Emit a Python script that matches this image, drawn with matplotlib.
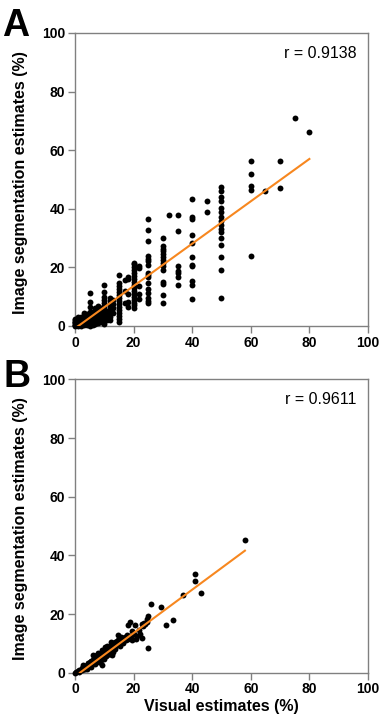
import matplotlib
matplotlib.use('Agg')
import matplotlib.pyplot as plt

plt.rcParams['font.family'] = ['Liberation Sans', 'DejaVu Sans']

# panel A: visual estimate (x) vs image segmentation estimate (y)
vis_a = ([0]*8 + [1]*5 + [2]*5 + [3]*6 + [4]*4 + [5]*10 + [6]*5 + [7]*6 + [8]*6 + [9]*5
         + [10]*12 + [11]*3 + [12]*8 + [13]*4 + [15]*15 + [17]*3 + [18]*5 + [20]*17
         + [22]*5 + [25]*16 + [30]*14 + [32] + [35]*7 + [40]*11 + [45]*2 + [50]*16
         + [60]*5 + [65] + [70]*2 + [75] + [80])
seg_a = ([0, 0.5, 1, 1.5, 2, 2.5, 0.2, 1.2] +
         [0, 0.5, 1.2, 2.0, 3.0] +
         [0, 0.4, 1.0, 2.2, 3.2] +
         [0.3, 0.8, 1.5, 2.5, 3.5, 4.5] +
         [0.5, 1.5, 2.8, 4.2] +
         [0, 0.6, 1.2, 2.0, 3.0, 4.0, 4.8, 6.5, 8.2, 11.1] +
         [0.5, 1.5, 2.5, 3.5, 4.8] +
         [0.8, 1.8, 3.0, 4.2, 5.5, 6.3] +
         [1.0, 2.0, 3.0, 4.5, 5.8, 6.8] +
         [1.2, 2.5, 3.8, 5.0, 6.3] +
         [0.8, 1.8, 2.8, 3.8, 4.8, 5.8, 6.8, 7.8, 8.8, 10.0, 11.7, 14.1] +
         [2.0, 3.5, 5.0] +
         [2.0, 3.2, 4.5, 5.5, 6.5, 7.5, 8.5, 9.5] +
         [4.5, 6.0, 7.5, 9.0] +
         [1.5, 2.5, 3.5, 4.5, 5.5, 6.5, 7.5, 8.5, 9.5, 10.5, 11.5, 12.5, 13.5, 14.5, 17.4] +
         [8.0, 12.0, 15.7] +
         [6.6, 8.3, 10.9, 15.9, 16.8] +
         [6.0, 7.0, 8.0, 9.0, 10.0, 11.0, 12.0, 13.0, 14.0, 15.0, 16.0, 17.0, 18.0, 19.0, 20.0, 21.0, 21.6] +
         [9.1, 10.9, 13.7, 19.7, 20.3] +
         [7.7, 8.4, 9.6, 11.1, 12.7, 14.6, 16.6, 17.3, 18.0, 20.7, 22.1, 23.0, 23.9, 29.0, 32.8, 36.4] +
         [7.7, 10.6, 14.3, 15.1, 19.1, 20.3, 21.4, 22.5, 23.4, 24.6, 25.5, 26.4, 27.4, 30.1] +
         [38.0] +
         [14.0, 16.8, 18.0, 18.9, 20.5, 32.5, 38.0] +
         [9.3, 13.9, 15.5, 20.3, 20.7, 23.7, 28.2, 31.1, 36.6, 37.1, 43.2] +
         [38.9, 42.8] +
         [9.4, 19.1, 23.7, 27.5, 30.0, 32.1, 33.2, 34.6, 35.7, 37.1, 38.9, 40.2, 42.8, 43.9, 46.2, 47.3] +
         [23.8, 46.3, 47.9, 51.9, 56.2] +
         [46.1] +
         [47.1, 56.4] +
         [70.9] +
         [66.1])
fit_a_x = [1, 80]
fit_a_y = [-0.1, 57.0]
r_a = 'r = 0.9138'

# panel B
vis_b = [0, 0.5, 1, 1.2, 1.5, 2, 2.3, 2.5, 2.8, 3, 3, 3.2, 3.5, 3.8, 4, 4, 4.2, 4.5, 4.8, 5,
         5.1, 5.3, 5.5, 5.8, 6, 6.2, 6.3, 6.5, 6.8, 7, 7, 7.2, 7.5, 7.8, 8, 8, 8.2, 8.5, 8.5, 8.8,
         9, 9.1, 9.2, 9.4, 9.6, 10, 10, 10.2, 10.5, 10.8, 11, 11, 11.3, 11.6, 11.9, 12, 12.2, 12.5,
         12.6, 12.8, 13.1, 13.3, 13.6, 13.8, 14, 14.4, 14.6, 15, 15.2, 15.7, 16, 16.3, 16.8, 17.2,
         17.5, 18, 18.2, 18.6, 18.9, 19, 19.5, 20.1, 20.5, 20.8, 21.2, 22.2, 22.8, 22.8, 23.5, 24,
         24.7, 24.7, 24.9, 24.9, 26, 29.4, 31, 33.3, 37, 40.9, 40.9, 43, 58,
         3.4, 4.4, 5.6, 6.6, 7.4, 8.3, 9.3, 9.8, 10.4, 11.4, 12.1, 12.9, 13.5, 14.2, 15.4, 16.5,
         17.8, 19.3, 21.8, 23.2, 7.9, 10.6, 12.4, 14.8, 16.1]
seg_b = [0, 0.2, 0.5, 0.9, 0.3, 1.0, 1.5, 0.8, 2.6, 1.2, 2.0, 1.6, 2.4, 1.8, 2.6, 1.4, 2.2, 2.0, 3.0, 2.5,
         3.8, 1.8, 3.2, 2.8, 4.2, 3.5, 6.0, 5.0, 4.9, 3.0, 5.5, 4.0, 6.2, 5.2, 4.9, 6.8, 3.6, 3.8, 5.8, 6.5,
         4.5, 2.6, 7.0, 5.5, 6.0, 6.6, 4.8, 7.5, 5.8, 9.1, 7.2, 6.0, 8.0, 6.8, 8.6, 7.6, 9.5, 6.0,
         8.2, 10.0, 7.2, 9.0, 10.6, 8.6, 9.6, 10.0, 11.0, 10.4, 9.2, 12.3, 11.6, 10.8, 12.0, 12.1,
         11.0, 16.3, 11.4, 12.5, 17.4, 12.1, 11.2, 13.2, 16.3, 11.4, 12.6, 13.2, 11.8, 16.6, 16.8, 16.6,
         17.3, 18.4, 19.5, 8.3, 23.5, 22.4, 16.3, 17.9, 26.6, 31.1, 33.8, 27.1, 45.4,
         1.2, 3.3, 4.1, 4.6, 5.9, 5.1, 7.8, 6.4, 8.7, 7.9, 6.5, 9.6, 8.0, 10.8, 11.8, 10.2,
         13.0, 14.2, 14.6, 15.9, 6.4, 6.9, 10.6, 12.9, 10.4]
fit_b_x = [1.7, 58]
fit_b_y = [0, 41.6]
r_b = 'r = 0.9611'

ticks = [0, 20, 40, 60, 80, 100]

fig = plt.figure(figsize=(3.82, 7.26), dpi=100)
ax1 = fig.add_axes([0.1963, 0.5510, 0.7670, 0.4036])
ax2 = fig.add_axes([0.1963, 0.0734, 0.7670, 0.4041])

for ax, vx, vy, fx, fy, rt in [(ax1, vis_a, seg_a, fit_a_x, fit_a_y, r_a),
                               (ax2, vis_b, seg_b, fit_b_x, fit_b_y, r_b)]:
    ax.scatter(vx, vy, s=18, color='black', linewidths=0, zorder=3, clip_on=False)
    ax.plot(fx, fy, color='#f7871f', lw=1.5, zorder=4)
    ax.set_xlim(0, 100)
    ax.set_ylim(0, 100)
    ax.set_xticks(ticks)
    ax.set_yticks(ticks)
    for sp in ax.spines.values():
        sp.set_color('#808080')
        sp.set_linewidth(1)
    ax.tick_params(direction='out', length=5, width=1, color='#808080', pad=2,
                   labelsize=10)
    for t in ax.get_xticklabels() + ax.get_yticklabels():
        t.set_fontweight('bold')
    ax.text(96, 93, rt, ha='right', va='center', fontsize=11.5)
    ax.set_ylabel('Image segmentation estimates (%)', fontsize=11.5, fontweight='bold')
    ax.yaxis.set_label_coords(-0.16, 0.49)

fig.text(0.006, 0.989, 'A', fontsize=27, fontweight='bold', va='top', ha='left')
fig.text(0.010, 0.506, 'B', fontsize=27, fontweight='bold', va='top', ha='left')

ax2.set_xlabel('Visual estimates (%)', fontsize=11.5, fontweight='bold')
ax2.xaxis.set_label_coords(0.5, -0.09)

fig.savefig('out.png', dpi=100)
